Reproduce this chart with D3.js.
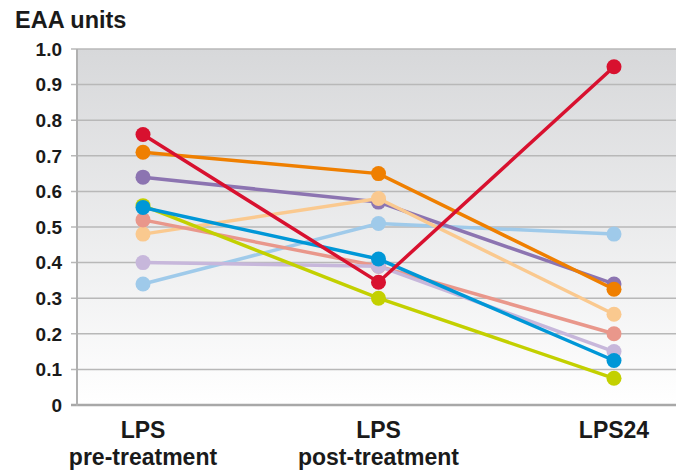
<!DOCTYPE html>
<html><head><meta charset="utf-8">
<script src="https://cdn.jsdelivr.net/npm/d3@7"></script>
<style>body{margin:0;background:#fff}svg{display:block;font-family:"Liberation Sans",Arial,sans-serif;font-weight:bold}</style>
</head><body><svg id="c" width="679" height="472"></svg>
<script>
const categories = ["pre","post","LPS24"];
const catLabels = [["LPS","pre-treatment"],["LPS","post-treatment"],["LPS24"]];
const yTicks = [0,0.1,0.2,0.3,0.4,0.5,0.6,0.7,0.8,0.9,1.0];
const seriesNames = ["lightblue","purple","peach","salmon","lavender","orange","yellowgreen","blue","red"];
const seriesColors = ["#9fcaea","#8c74b1","#fac98f","#e9978b","#c7b7db","#ef7f00","#c3d000","#0097d7","#d8112f"];
const lightblue   = [0.34,0.51,0.48];
const purple      = [0.64,0.57,0.34];
const peach       = [0.48,0.58,0.255];
const salmon      = [0.52,0.39,0.20];
const lavender    = [0.40,0.39,0.15];
const orange      = [0.71,0.65,0.325];
const yellowgreen = [0.56,0.30,0.075];
const blue        = [0.555,0.41,0.125];
const red         = [0.76,0.345,0.95];
const seriesValues = [lightblue,purple,peach,salmon,lavender,orange,yellowgreen,blue,red];

const svg = d3.select("#c");
const L = 77, R = 676, T = 49, B = 405;
const y = d3.scaleLinear().domain([0,1]).range([B,T]);
const x = d3.scalePoint().domain(categories).range([143,614]);

const defs = svg.append("defs");
const g = defs.append("linearGradient").attr("id","bg").attr("x1",0).attr("y1",0).attr("x2",0).attr("y2",1);
g.append("stop").attr("offset","0%").attr("stop-color","#d7d8da");
g.append("stop").attr("offset","100%").attr("stop-color","#ffffff");
svg.append("rect").attr("x",L).attr("y",T).attr("width",R-L).attr("height",B-T).attr("fill","url(#bg)");

// grid
svg.append("g").selectAll("line").data(yTicks).join("line")
  .attr("x1",L-6).attr("x2",R).attr("y1",d=>y(d)).attr("y2",d=>y(d))
  .attr("stroke",d=>d===0?"#a8a8a8":"#b8b8b8").attr("stroke-width",d=>d===0?2.5:1.5);
svg.append("line").attr("x1",L).attr("x2",L).attr("y1",T).attr("y2",B+1)
  .attr("stroke","#b0b0b0").attr("stroke-width",2);

// y labels
svg.append("g").selectAll("text").data(yTicks).join("text")
  .attr("x",62).attr("y",d=>y(d)).attr("dy","0.36em").attr("text-anchor","end")
  .attr("font-size",19).attr("fill","#1a1a1a").text(d=>d===0?"0":d.toFixed(1));

svg.append("text").attr("x",15).attr("y",28).attr("font-size",23.5).attr("fill","#1a1a1a").text("EAA units");

// x labels
categories.forEach((c,i)=>{
  catLabels[i].forEach((t,j)=>{
    svg.append("text").attr("x",x(c)).attr("y",438+j*27).attr("text-anchor","middle")
      .attr("font-size",23).attr("fill","#1a1a1a").text(t);
  });
});

const line = d3.line().x((d,i)=>x(categories[i])).y(d=>y(d));
seriesValues.forEach((vals,k)=>{
  const gg = svg.append("g");
  gg.append("path").attr("d",line(vals)).attr("fill","none").attr("stroke",seriesColors[k]).attr("stroke-width",3.5);
  gg.selectAll("circle").data(vals).join("circle")
    .attr("cx",(d,i)=>x(categories[i])).attr("cy",d=>y(d)).attr("r",7.5).attr("fill",seriesColors[k]);
});
</script></body></html>
